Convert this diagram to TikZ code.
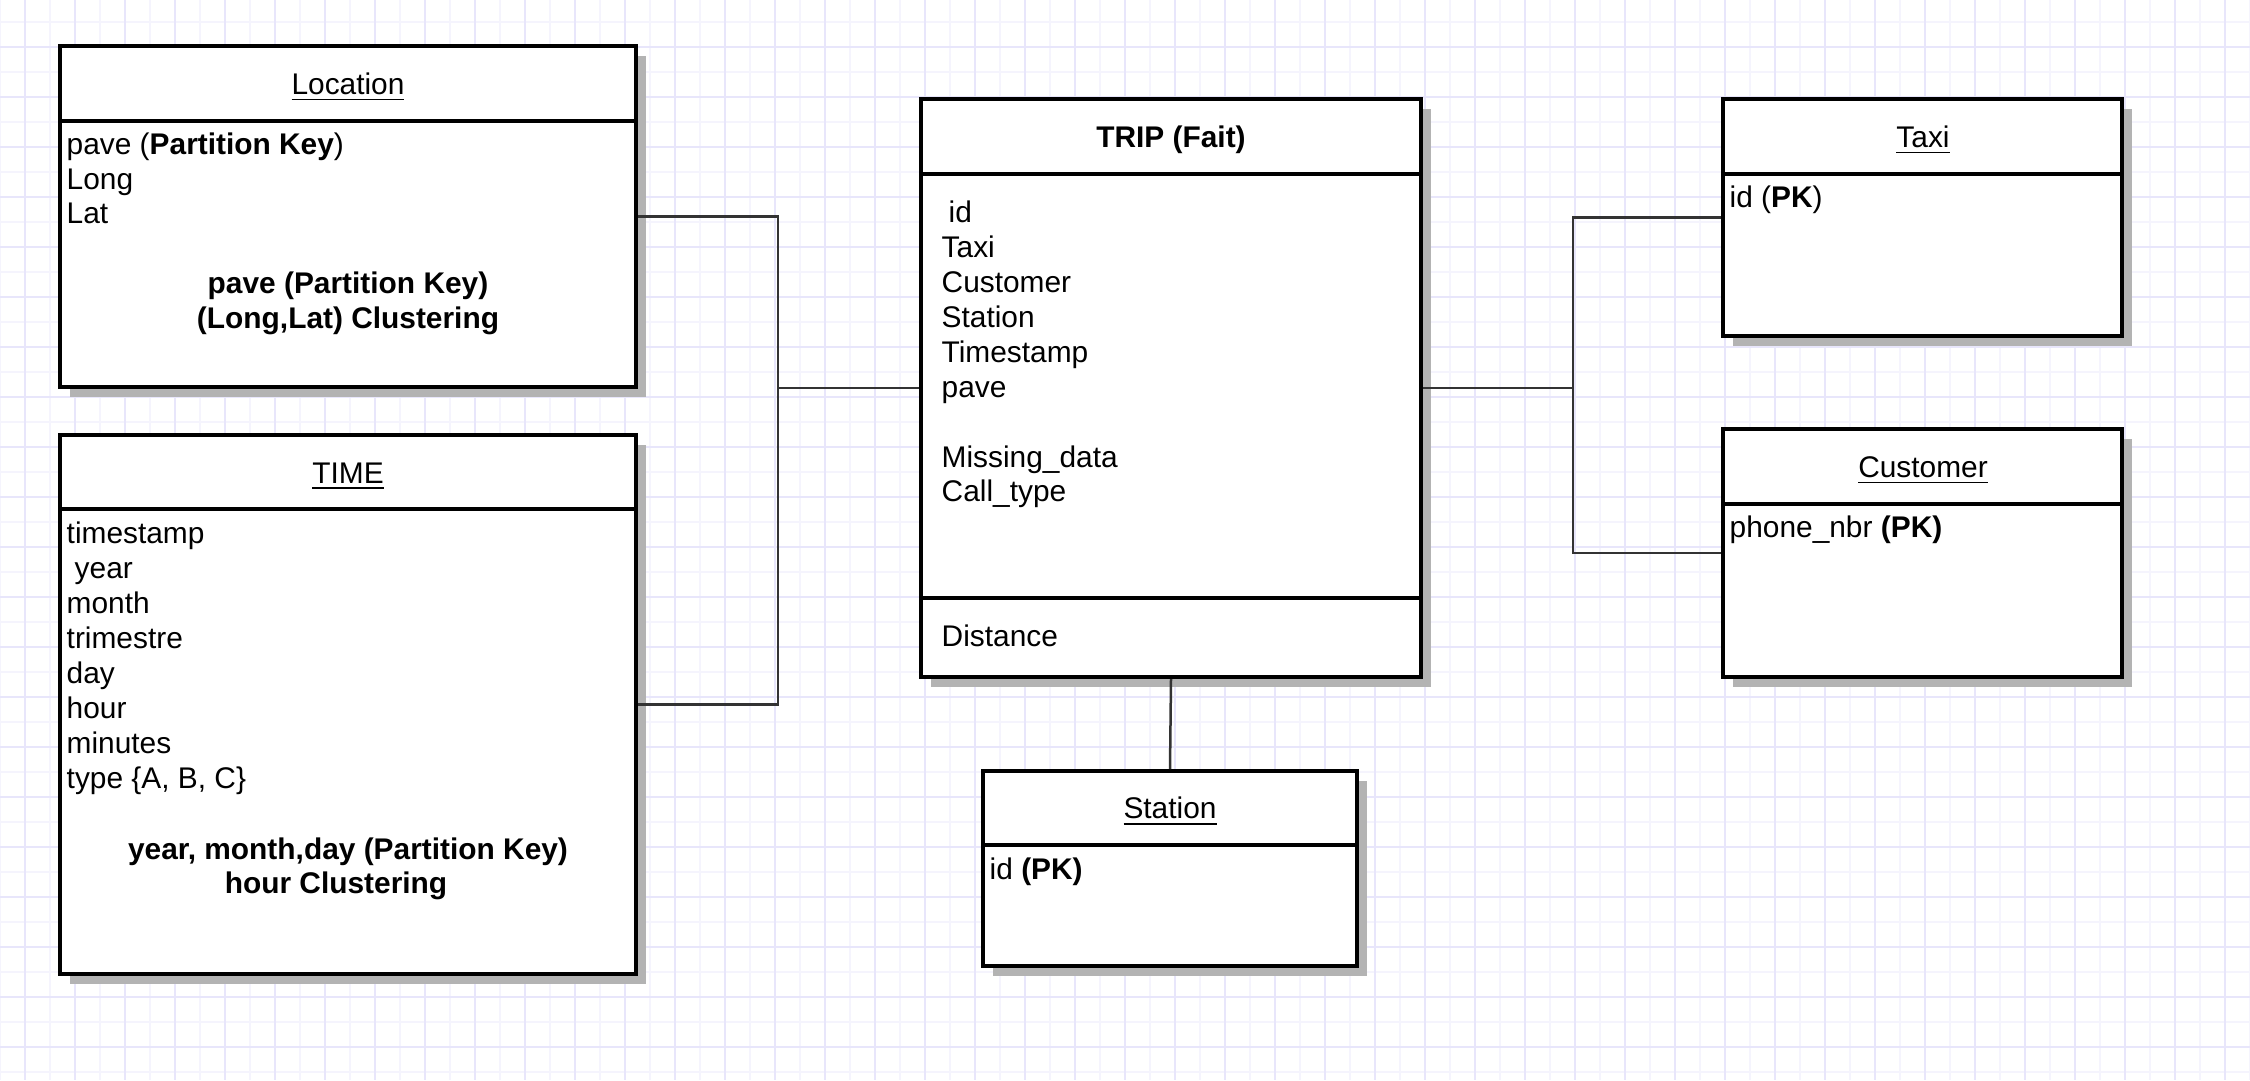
\documentclass[tikz,border=0pt]{standalone}
\usepackage{fontspec}
\setmainfont{Liberation Sans}
\usetikzlibrary{positioning,fit,shadows}
\definecolor{gridmaj}{HTML}{E8E6FB}
\definecolor{gridmin}{HTML}{F5F4FD}
\definecolor{shadowgray}{HTML}{B3B3B3}
\definecolor{linkgray}{HTML}{333333}

\tikzset{
  entity/.style={draw=black,line width=.4mm,fill=white,inner sep=0pt,
    drop shadow={shadow xshift=1mm,shadow yshift=-1mm,fill=shadowgray,opacity=1}},
  sep/.style={line width=.4mm},
  link/.style={draw=linkgray,line width=.25mm},
  txt/.style={inner sep=0pt,yshift=-.3mm,font=\fontsize{8.5}{10}\selectfont,anchor=base west},
  ttl/.style={txt,anchor=base},
  key/.style={ttl,font=\fontsize{8.5}{10}\selectfont\bfseries},
}

\begin{document}
\begin{tikzpicture}[x=.1mm,y=-.1mm]
\useasboundingbox (0,0) rectangle (2250,1080);
\fill[white] (0,0) rectangle (2250,1080);
% grid
\foreach \x in {0,50,...,2250}\draw[gridmin,line width=.2mm] (\x,0)--(\x,1080);
\foreach \k in {0,...,21}\draw[gridmin,line width=.2mm] (0,21.7+50*\k)--(2250,21.7+50*\k);
\foreach \x in {25,75,...,2225}\draw[gridmaj,line width=.2mm] (\x,0)--(\x,1080);
\foreach \k in {0,...,21}\draw[gridmaj,line width=.2mm] (0,46.7+50*\k)--(2250,46.7+50*\k);

% tables
\node[entity,fit={(60,46)(636,387)}] (loc) {};
\node[entity,fit={(60,435)(636,974)}] (time) {};
\node[entity,fit={(921,99)(1421,677)}] (trip) {};
\node[entity,fit={(1723,99)(2122,336)}] (taxi) {};
\node[entity,fit={(1723,429)(2122,677)}] (cust) {};
\node[entity,fit={(983,771)(1357,966)}] (stat) {};
\draw[sep] (loc.west |- 0,121)--(loc.east |- 0,121);
\draw[sep] (time.west |- 0,509)--(time.east |- 0,509);
\draw[sep] (trip.west |- 0,174)--(trip.east |- 0,174);
\draw[sep] (trip.west |- 0,598)--(trip.east |- 0,598);
\draw[sep] (taxi.west |- 0,174)--(taxi.east |- 0,174);
\draw[sep] (cust.west |- 0,504)--(cust.east |- 0,504);
\draw[sep] (stat.west |- 0,845)--(stat.east |- 0,845);

% Location
\node[ttl] (locT) at (348,91) {\underline{Location}};
\foreach \t [count=\i from 0] in {{pave (\textbf{Partition Key})},Long,Lat}
  \node[txt] (locA\i) at (66,151.5+34.5*\i) {\t};
\node[key] (locK1) at (348,290.7) {pave (Partition Key)};
\node[key] (locK2) at (348,325.1) {(Long,Lat) Clustering};

% TIME
\node[ttl] (timeT) at (348,480) {\underline{TIME}};
\foreach \t [count=\i from 0] in {timestamp,\hspace*{.8mm}year,month,trimestre,day,hour,minutes,{type \{A, B, C\}}}
  \node[txt] (timeA\i) at (66,540.4+35.06*\i) {\t};
\node[key] (timeK1) at (348,856.1) {year, month,day (Partition Key)};
\node[key] (timeK2) at (348,890.5) {hour Clustering\hspace*{2.4mm}};

% TRIP
\node[key] (tripT) at (1171,144.3) {TRIP (Fait)};
\foreach \t [count=\i from 0] in {\hspace*{.7mm}id,Taxi,Customer,Station,Timestamp,pave}
  \node[txt] (tripA\i) at (941,219+35*\i) {\t};
\node[txt] (tripM) at (941,464.3) {Missing\_data};
\node[txt] (tripC) at (941,498.8) {Call\_type};
\node[txt] (tripD) at (941,643.7) {Distance};

% Taxi, Customer, Station
\node[ttl] (taxiT) at (1923,144.3) {\underline{Taxi}};
\node[txt] (taxiA) at (1729,204.6) {id (\textbf{PK})};
\node[ttl] (custT) at (1923,474.4) {\underline{Customer}};
\node[txt] (custA) at (1729,534.6) {phone\_nbr \textbf{(PK)}};
\node[ttl] (statT) at (1170,815.9) {\underline{Station}};
\node[txt] (statA) at (989,876.2) {id \textbf{(PK)}};

% links
\coordinate (jl) at (778,388);
\coordinate (jr) at (1573,388);
\draw[link] (loc.east) -| (jl) |- (time.east);
\draw[link] (trip.west)--(jl |- trip.west);
\draw[link] (taxi.west) -| (jr) |- (cust.west);
\draw[link] (trip.east)--(jr |- trip.east);
\draw[link] (trip.south)--(stat.north);
\end{tikzpicture}
\end{document}
